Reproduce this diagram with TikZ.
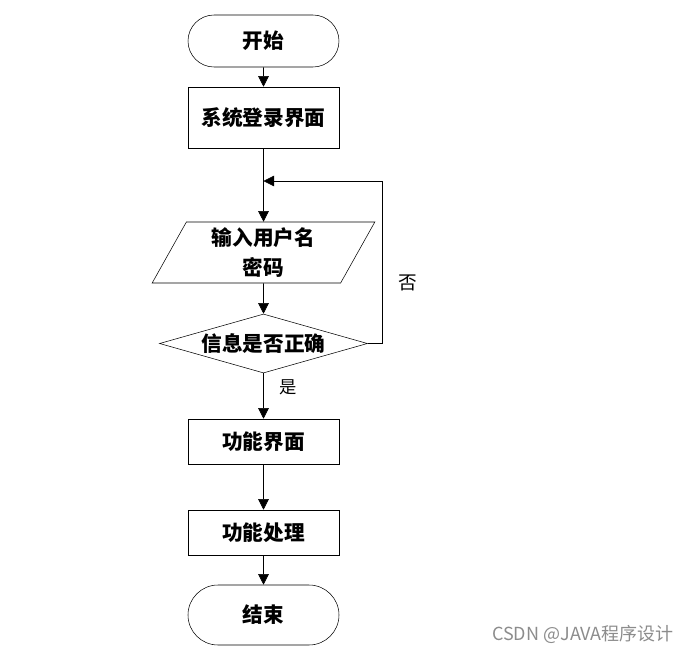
\documentclass[tikz,border=0pt]{standalone}
\usepackage{fontspec}
\newfontfamily\cjk{Noto Sans CJK SC}
\usetikzlibrary{shapes.geometric,shapes.misc,arrows.meta}

\tikzset{
    terminal/.style={rounded rectangle, draw, thin, minimum width=113.25pt, inner sep=0pt, font=\cjk\bfseries\fontsize{15.5}{18}\selectfont},
    procbox/.style={rectangle, draw, thin, minimum width=113.25pt, inner sep=0pt, font=\cjk\bfseries\fontsize{15.5}{18}\selectfont},
    iobox/.style={trapezium, trapezium left angle=65, trapezium right angle=115, trapezium stretches=true, draw, thin, minimum width=167.25pt, minimum height=45.75pt, inner sep=0pt, align=center, font=\cjk\bfseries\fontsize{15.5}{22}\selectfont},
    decision/.style={diamond, draw, thin, aspect=3.5, minimum width=156pt, minimum height=44.25pt, inner sep=0pt, font=\cjk\bfseries\fontsize{15.5}{18}\selectfont},
    flow/.style={thin, -{Triangle[length=8pt,width=8pt]}},
    branch/.style={font=\cjk\fontsize{13}{15}\selectfont}
}

\begin{document}
\begin{tikzpicture}[x=0.75pt, y=-0.75pt]
        \useasboundingbox (0,0) rectangle (694,654);

        \node [terminal, minimum height=39pt] (start) at (263.5,41) {开始};
        \node [procbox, minimum height=45.75pt] (login) at (263.5,117.5) {系统登录界面};
        \node [iobox] (input) at (263.5,252.5) {输入用户名\\密码};
        \node [decision] (check) at (263.5,343.5) {信息是否正确};
        \node [procbox, minimum height=33.75pt] (menu) at (263.5,441.5) {功能界面};
        \node [procbox, minimum height=33.75pt] (work) at (263.5,532.5) {功能处理};
        \node [terminal, minimum height=45pt] (stop) at (263.5,615) {结束};

        \coordinate (back) at (263.5,181);
        \coordinate (corner) at (382,181);

        \node [branch, font=\cjk\fontsize{14}{16}\selectfont] (no) at (408,283) {否};
        \node [branch] (yes) at (288,387) {是};

        \draw [flow] (start) -- (login);
        \draw [flow] (login) -- (input);
        \draw [flow] (input) -- (check);
        \draw [flow] (check.east) -- (check.east -| corner) -- (corner) -- (back);
        \draw [flow] (check) -- (menu);
        \draw [flow] (menu) -- (work);
        \draw [flow] (work) -- (stop);

        \node [text=black!45, font=\cjk\fontsize{13.5}{16}\selectfont] (mark) at (583,634) {CSDN @JAVA程序设计};

\end{tikzpicture}
\end{document}
